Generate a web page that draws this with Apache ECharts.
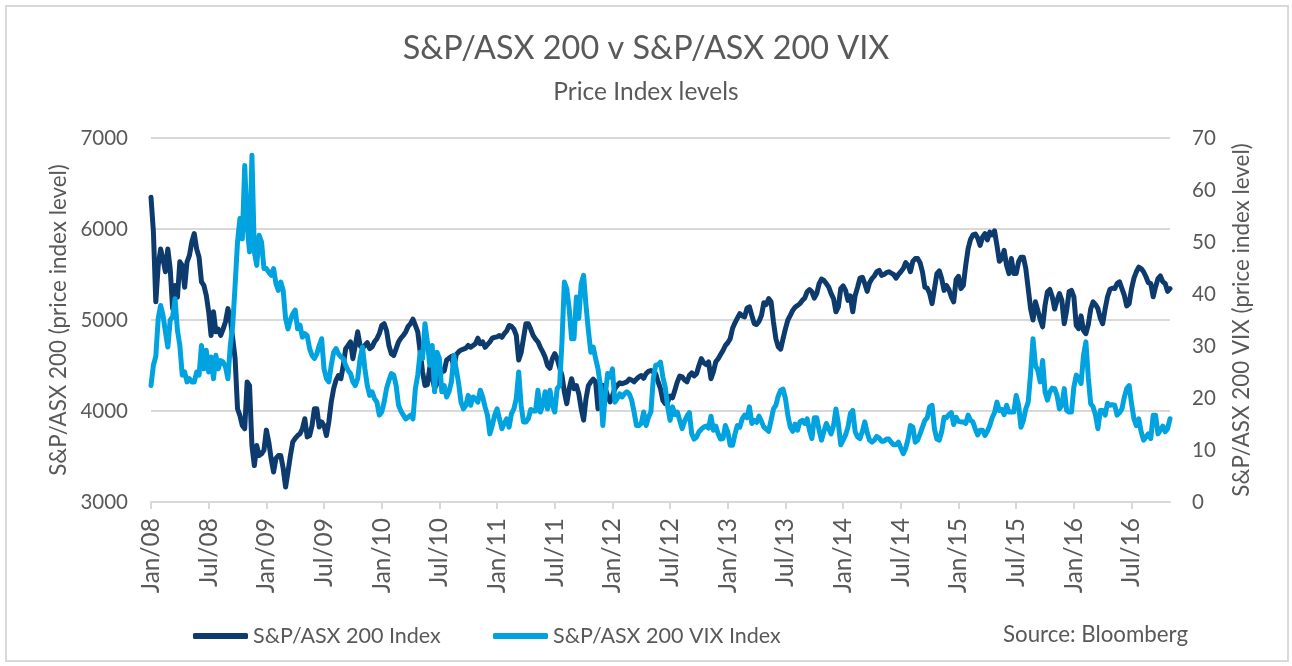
<!DOCTYPE html>
<html>
<head>
<meta charset="utf-8">
<script src="https://cdn.jsdelivr.net/npm/echarts@6/dist/echarts.min.js"></script>
<style>
html,body{margin:0;padding:0;background:#fff;}
#chart{width:1292px;height:666px;}
</style>
</head>
<body>
<div id="chart"></div>
<script>
// Weekly-ish observations (days 1, 8, 16, 23 of each month), Jan 2008 - Nov 2016; one row = 3 months
const asx200 = [
  6350,5970,5200,5600, 5780,5670,5530,5780, 5560,5125,5380,5250,
  5640,5600,5360,5640, 5710,5860,5950,5780, 5690,5420,5380,5270,
  5090,4830,5090,4870, 4900,4830,4900,4980, 5125,5015,4800,4575,
  4025,3950,3840,3805, 4320,4280,3620,3400, 3620,3510,3530,3570,
  3790,3660,3475,3330, 3480,3510,3510,3370, 3165,3330,3510,3660,
  3700,3730,3750,3805, 3915,3715,3730,3840, 4025,4025,3825,3880,
  3840,3730,3880,4100, 4245,4340,4390,4355, 4500,4685,4720,4760,
  4575,4720,4870,4720, 4690,4720,4750,4685, 4705,4760,4795,4850,
  4940,4960,4885,4720, 4630,4610,4685,4760, 4800,4830,4870,4930,
  4960,5010,4940,4870, 4650,4430,4280,4290, 4480,4370,4250,4300,
  4340,4450,4440,4560, 4580,4600,4480,4620, 4650,4670,4680,4690,
  4720,4700,4720,4740, 4800,4740,4760,4700, 4730,4760,4800,4810,
  4815,4830,4810,4850, 4880,4940,4930,4900, 4830,4560,4640,4800,
  4960,4960,4900,4830, 4790,4760,4700,4650, 4590,4500,4470,4575,
  4630,4575,4480,4390, 4210,4080,4245,4355, 4245,4280,4190,4025,
  3900,4135,4280,4320, 4350,4320,4025,4100, 4280,4245,4170,4100,
  4170,4245,4280,4310, 4300,4310,4320,4350, 4340,4320,4350,4375,
  4390,4360,4410,4435, 4445,4430,4410,4320, 4245,4115,4080,4100,
  4165,4145,4230,4320, 4385,4375,4340,4320, 4390,4420,4385,4410,
  4500,4575,4530,4510, 4540,4355,4430,4540, 4575,4620,4665,4720,
  4750,4795,4910,4970, 5020,5070,5045,5035, 5130,5145,5050,4960,
  4950,4985,5050,5190, 5170,5235,5200,4980, 4795,4705,4680,4795,
  4905,5000,5050,5105, 5140,5160,5180,5215, 5240,5310,5335,5310,
  5240,5290,5400,5450, 5435,5400,5360,5290, 5235,5090,5145,5345,
  5375,5325,5215,5265, 5090,5270,5360,5460, 5470,5400,5315,5410,
  5455,5485,5530,5545, 5490,5500,5520,5530, 5515,5500,5460,5500,
  5530,5565,5630,5600, 5530,5645,5675,5675, 5630,5530,5360,5350,
  5290,5180,5345,5510, 5540,5455,5325,5380, 5335,5255,5200,5445,
  5480,5345,5380,5600, 5785,5885,5935,5945, 5900,5820,5910,5950,
  5880,5965,5935,5980, 5820,5645,5675,5765, 5600,5510,5675,5510,
  5510,5640,5690,5690, 5565,5345,5125,5000, 5200,5105,5005,4925,
  5160,5310,5335,5255, 5120,5215,5290,5215, 4960,5105,5310,5325,
  5255,4940,4905,5045, 4885,4850,4950,5120, 5200,5170,5125,5020,
  4960,5120,5255,5335, 5350,5345,5400,5420, 5345,5270,5155,5180,
  5345,5460,5530,5580, 5565,5530,5475,5410, 5400,5255,5365,5455,
  5485,5420,5400,5315, 5345
];
const asxVix = [
  22.4,26.3,28,35.3, 37.8,35.9,32.7,29.8, 35,35.6,39.1,33,
  30.1,24.4,25,23.1, 23.7,23.1,23.1,25, 24.4,30.1,25.6,29.2,
  25,27.9,23.7,28.2, 25.6,27.2,26.9,26, 23.7,30.1,34,41.7,
  50,54.5,50.6,64.7, 53.2,48.1,66.7,48.1, 45.5,51.3,50,44.9,
  44.9,44.2,43.6,44.9, 42,40.7,42.3,40.7, 35.3,33.3,35,36.2,
  36.9,33.3,34,31.7, 32.4,32,29.5,28.2, 27.6,28.5,30.1,31.4,
  25.6,23.7,23.1,26.3, 28.8,29.5,28.5,27.9, 27.6,26.3,25.3,24.7,
  23.1,22.4,23.7,27.6, 29.8,25.6,22.4,20.5, 21.2,19.9,19.2,16.7,
  17.3,19.2,21.8,23.4, 24.7,24.4,22.4,18.6, 17.5,16.7,16,16.3,
  16.7,16,21.8,24.4, 28.8,27.6,34.3,30.8, 26.3,30.1,21.2,28.8,
  27.6,21.2,22.4,20.2, 21.2,23.1,28.2,25.6, 22.8,19.2,17.9,18.6,
  20.5,18.6,20.2,19.9, 19.2,21.5,20.2,18.3, 16.7,13.1,14.7,16.7,
  17.9,16,14.1,15.1, 16,14.4,17,17.9, 19.9,25,18.6,15.4,
  15.4,16,17.8,17.5, 17.5,21.5,17.3,18.6, 21.2,17.9,21.5,18.6,
  17.3,21.8,22.4,30.8, 42.3,41,37.2,31.4, 31.4,39.4,35.3,42,
  43.6,37.8,33,28.8, 29.8,27.6,25.6,22.4, 14.7,20.5,24.7,24,
  25.6,19.2,19.9,20.8, 20.2,20.8,21.2,20.8, 19.6,17.3,14.7,14.7,
  15.1,17.3,14.7,16.3, 17.3,23.7,26.3,26.4, 26.9,24,22,18.3,
  15.7,18.3,16.8,17.3, 15.7,14.1,15.5,16.5, 17.2,13.1,12.1,12.5,
  13.5,14,14.4,14.6, 14.2,16.5,13.8,14.6, 13.1,12.1,12.2,14.7,
  13.5,10.9,10.9,13.1, 14.7,14.4,16,16.7, 16.2,18.3,15.1,15.7,
  15.3,16.5,15.5,14.4, 14,13.6,15.7,17.9, 18.6,20.4,21.5,21.7,
  19.9,16.7,14.4,13.6, 15,13.8,15.4,15.7, 15.1,16,13.8,12.2,
  16.2,16.2,13.8,11.9, 13.6,15.1,14.1,13.1, 14.7,17.9,15.1,11,
  11.9,12.9,14.4,17, 17.6,13.5,12.5,12.2, 13.6,15.4,13.3,11.9,
  11.5,11.9,12.6,12.3, 11.7,11.7,12.1,12.1, 11.5,11,11,11.5,
  10.4,9.3,10.3,12.1, 14.7,14.4,11.5,11.9, 13.1,14.4,15.7,16.2,
  18.3,18.6,14,12.1, 11.9,13.5,16.3,16.2, 16.8,17.2,14.9,16.3,
  15.5,15.4,15.4,15.1, 16.7,15.7,15.4,14, 12.9,13.8,13.8,12.8,
  13.6,14.7,16.2,17.2, 19.2,17.6,17.8,16.8, 18.6,17.3,17.3,17.3,
  20.5,18.6,14.4,15.7, 17.9,19.2,24.7,31.4, 26.3,25.3,23.1,27.2,
  21.2,19.6,21.2,21.9, 21.8,20.5,17.9,18.6, 21.8,17.6,17.3,17.3,
  22.1,24.4,23.8,22.8, 28.2,30.8,24,18.9, 18.3,16.7,14.1,17.6,
  17.6,16.7,19,18.6, 18.7,18.6,16.7,17.2, 17.9,20.2,21.8,22.4,
  18.9,16,14.7,16, 13.5,11.9,12.5,13.1, 12.2,16.7,16.7,13.1,
  13.8,14.6,13.5,14.1, 16
];
const tickLabels = ['Jan/08','Jul/08','Jan/09','Jul/09','Jan/10','Jul/10','Jan/11','Jul/11','Jan/12',
  'Jul/12','Jan/13','Jul/13','Jan/14','Jul/14','Jan/15','Jul/15','Jan/16','Jul/16'];
const seriesNames = ['S&P/ASX 200 Index','S&P/ASX 200 VIX Index'];
const obsDays = ['01','08','16','23'];

// category dates, four observations per month
const categories = [];
for (let k = 0; k < asx200.length; k++) {
  const m = Math.floor(k / 4);
  const y = 2008 + Math.floor(m / 12);
  const mo = (m % 12) + 1;
  categories.push(y + '-' + String(mo).padStart(2,'0') + '-' + obsDays[k % 4]);
}

const FONT = 'Lato';
const TXT = '#595959';
const GRID = '#d9d9d9';
const DARK = '#0e3b6d';
const LIGHT = '#00a2df';
const PER_TICK = 24; // observations per 6 months
const every6m = function (idx) { return idx % PER_TICK === 0; };

const chart = echarts.init(document.getElementById('chart'), null, {renderer: 'canvas'});
chart.setOption({
  animation: false,
  backgroundColor: '#fff',
  textStyle: {fontFamily: FONT},
  title: [
    {text: 'S&P/ASX 200 v S&P/ASX 200 VIX', left: 'center', top: 28,
     textStyle: {fontFamily: FONT, fontSize: 32.4, fontWeight: 'normal', color: TXT}},
    {text: 'Price Index levels', left: 'center', top: 75,
     textStyle: {fontFamily: FONT, fontSize: 24.5, fontWeight: 'normal', color: TXT}},
    {text: 'Source: Bloomberg', left: 998, top: 619,
     textStyle: {fontFamily: FONT, fontSize: 22.3, fontWeight: 'normal', color: TXT}}
  ],
  graphic: [{
    type: 'rect', shape: {x: 6, y: 6, width: 1282, height: 655},
    style: {fill: 'none', stroke: GRID, lineWidth: 2}, silent: true, z: -1
  }],
  legend: [
    {data: [seriesNames[0]], left: 188, top: 620, icon: 'roundRect', itemWidth: 55, itemHeight: 6,
     textStyle: {fontFamily: FONT, fontSize: 21.5, color: TXT}, itemGap: 0},
    {data: [seriesNames[1]], left: 488, top: 620, icon: 'roundRect', itemWidth: 55, itemHeight: 6,
     textStyle: {fontFamily: FONT, fontSize: 21.5, color: TXT}, itemGap: 0}
  ],
  grid: {left: 151, right: 122, top: 138, bottom: 164, containLabel: false},
  xAxis: {
    type: 'category', data: categories, boundaryGap: false,
    axisLine: {lineStyle: {color: GRID, width: 2}},
    axisTick: {show: true, interval: every6m, length: 7, lineStyle: {color: GRID, width: 2}},
    axisLabel: {interval: every6m, rotate: 90, margin: 16, fontFamily: FONT, fontSize: 24.5, color: TXT,
      formatter: function (v, idx) { return tickLabels[idx / PER_TICK]; }},
    splitLine: {show: false}
  },
  yAxis: [
    {type: 'value', min: 3000, max: 7000, interval: 1000, position: 'left',
     name: 'S&P/ASX 200 (price index level)', nameLocation: 'middle', nameRotate: 90, nameGap: 76,
     nameTextStyle: {fontFamily: FONT, fontSize: 22.4, color: TXT},
     axisLine: {show: false}, axisTick: {show: false},
     axisLabel: {margin: 23, fontFamily: FONT, fontSize: 20.5, color: TXT,
       formatter: function (v) { return String(v); }},
     splitLine: {lineStyle: {color: GRID, width: 2}}},
    {type: 'value', min: 0, max: 70, interval: 10, position: 'right',
     name: 'S&P/ASX 200 VIX (price index level)', nameLocation: 'middle', nameRotate: 90, nameGap: 61,
     nameTextStyle: {fontFamily: FONT, fontSize: 22.4, color: TXT},
     axisLine: {show: false}, axisTick: {show: false},
     axisLabel: {margin: 22, fontFamily: FONT, fontSize: 20.5, color: TXT,
       formatter: function (v) { return String(v); }},
     splitLine: {show: false}}
  ],
  series: [
    {name: seriesNames[0], type: 'line', yAxisIndex: 0, data: asx200, showSymbol: false,
     lineStyle: {color: DARK, width: 5, join: 'round', cap: 'round'}, itemStyle: {color: DARK}, z: 2},
    {name: seriesNames[1], type: 'line', yAxisIndex: 1, data: asxVix, showSymbol: false,
     lineStyle: {color: LIGHT, width: 5, join: 'round', cap: 'round'}, itemStyle: {color: LIGHT}, z: 3}
  ]
});
</script>
</body>
</html>
